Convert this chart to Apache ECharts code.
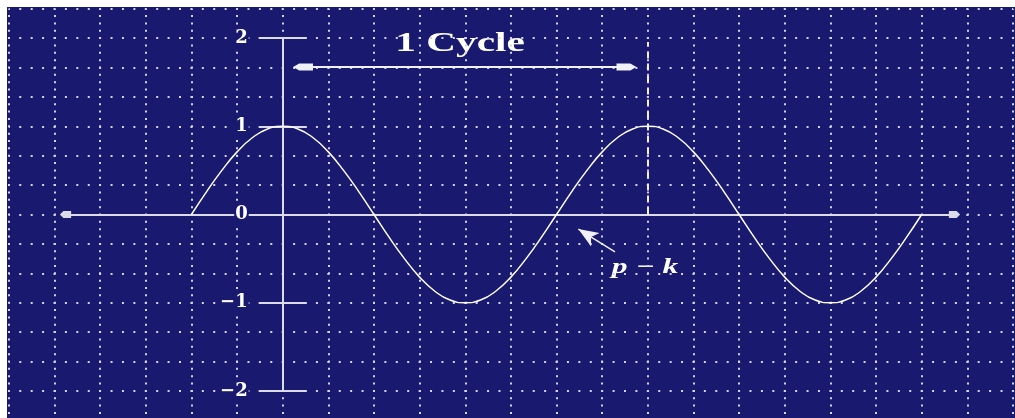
<!DOCTYPE html>
<html>
<head>
<meta charset="utf-8">
<title>1 Cycle</title>
<script src="https://cdn.jsdelivr.net/npm/echarts@6/dist/echarts.min.js"></script>
<style>html, body { margin: 0; padding: 0; background: #fff; }</style>
</head>
<body>
<div id="main" style="width:1015px;height:418px;"></div>
<script>
// phase in degrees, 0 = crest on the vertical axis
var phase = [-90, -75, -60, -45, -30, -15, 0, 15, 30, 45, 60, 75, 90,
    105, 120, 135, 150, 165, 180, 195, 210, 225, 240, 255, 270,
    285, 300, 315, 330, 345, 360, 375, 390, 405, 420, 435, 450,
    465, 480, 495, 510, 525, 540, 555, 570, 585, 600, 615, 630];
var wave = [0, 0.26, 0.5, 0.71, 0.87, 0.97, 1, 0.97, 0.87, 0.71, 0.5, 0.26, 0,
    -0.26, -0.5, -0.71, -0.87, -0.97, -1, -0.97, -0.87, -0.71, -0.5, -0.26, 0,
    0.26, 0.5, 0.71, 0.87, 0.97, 1, 0.97, 0.87, 0.71, 0.5, 0.26, 0,
    -0.26, -0.5, -0.71, -0.87, -0.97, -1, -0.97, -0.87, -0.71, -0.5, -0.26, 0];
var yTickLabels = ['\u22122', '\u22121', '0', '1', '2'];
var cycleText = '1 Cycle';
var noteText = 'p \u2212 k';
// annotation anchors (phase, amplitude)
var cycleArrow = [[20, 1.672], [339, 1.672]];
var cycleMark = [[360, 0], [360, 1.956]];
var noteArrow = [[291.5, -0.165], [327.6, -0.425]];

var navy = '#191970';
var axisColor = '#dcdce8';
var dotColor = '#d4d4e6';

// pixel layout
var x0 = 282.7, y0 = 214.5;
var pxPerDeg = 45.64 / 45;
var pxPerUnit = 88.2;
var axL = 65.5, axR = 954.5;
var arrowPath = 'path://M5,0 L10,5 L10,16 L0,16 L0,5 Z';

var myChart = echarts.init(document.getElementById('main'));

var axisX = {
    type: 'value',
    min: (axL - x0) / pxPerDeg,
    max: (axR - x0) / pxPerDeg,
    axisTick: { show: false },
    axisLabel: { show: false },
    splitLine: { show: false }
};
var axisBox = { top: y0 - 2 * pxPerUnit, height: 4 * pxPerUnit, outerBoundsMode: 'none' };

option = {
    backgroundColor: '#fff',
    animation: false,
    graphic: [
        { type: 'rect', z: -100, silent: true, shape: { x: 7, y: 7, width: 1008, height: 411 }, style: { fill: navy } },
        { type: 'text', x: 460, y: 44, scaleX: 1.53, silent: true,
          style: { text: cycleText, font: 'bold 27px "Liberation Serif"', fill: '#fff', align: 'center', verticalAlign: 'middle' } },
        { type: 'text', x: 645, y: 268, scaleX: 1.5, silent: true,
          style: { text: noteText, font: 'italic bold 21px "Liberation Serif"', fill: '#fff', align: 'center', verticalAlign: 'middle' } }
    ],
    grid: [
        // dotted background
        { left: x0 - 270 * pxPerDeg, width: 990 * pxPerDeg, top: y0 - 7 * pxPerUnit / 3, height: 14 * pxPerUnit / 3, outerBoundsMode: 'none' },
        // axes + curve
        Object.assign({ left: axL, width: axR - axL }, axisBox),
        // right half of the y ticks
        Object.assign({ left: axL, width: axR - axL }, axisBox),
        // y tick labels, left edge on the vertical axis
        Object.assign({ left: x0, width: 10 }, axisBox)
    ],
    xAxis: [
        {
            gridIndex: 0, type: 'value', min: -270, max: 720, interval: 45,
            axisLine: { show: false }, axisTick: { show: false }, axisLabel: { show: false },
            splitLine: { show: true, lineStyle: { color: dotColor, width: 2, type: [2, pxPerUnit / 12 - 2], dashOffset: 1 } }
        },
        Object.assign({}, axisX, {
            gridIndex: 1,
            axisLine: { onZero: true, symbol: [arrowPath, arrowPath], symbolSize: [7, 16], lineStyle: { color: axisColor, width: 2 } }
        }),
        Object.assign({}, axisX, { gridIndex: 2, show: false }),
        { gridIndex: 3, type: 'value', min: 0, max: 1, show: false }
    ],
    yAxis: [
        {
            gridIndex: 0, type: 'value', min: -7, max: 7, interval: 1, // thirds of a unit
            axisLine: { show: false }, axisTick: { show: false }, axisLabel: { show: false },
            splitLine: { show: true, lineStyle: { color: dotColor, width: 2, type: [2, 45.64 / 4 - 2], dashOffset: 1 } }
        },
        {
            gridIndex: 1, type: 'value', min: -2, max: 2, interval: 1,
            axisLine: { onZero: true, lineStyle: { color: axisColor, width: 2 } },
            axisTick: { show: true, inside: false, length: 24, lineStyle: { color: axisColor, width: 2 } },
            axisLabel: { show: false },
            splitLine: { show: false }
        },
        {
            gridIndex: 2, type: 'value', min: -2, max: 2, interval: 1,
            axisLine: { onZero: true, lineStyle: { color: axisColor, width: 2 } },
            axisTick: { show: true, inside: true, length: 24, lineStyle: { color: axisColor, width: 2 } },
            axisLabel: { show: false },
            splitLine: { show: false }
        },
        {
            gridIndex: 3, type: 'value', min: -2, max: 2, interval: 1,
            axisLine: { show: false, onZero: false }, axisTick: { show: false },
            axisLabel: {
                margin: 34, color: '#fff', fontFamily: 'DejaVu Serif', fontWeight: 'bold', fontSize: 18,
                backgroundColor: navy, padding: [0, 1],
                formatter: function (v) { return yTickLabels[v + 2]; }
            },
            splitLine: { show: false }
        }
    ],
    series: [{
        type: 'line',
        xAxisIndex: 1,
        yAxisIndex: 1,
        data: phase.map(function (p, i) { return [p, wave[i]]; }),
        showSymbol: false,
        smooth: true,
        z: 3,
        lineStyle: { color: '#fff', width: 1.5 },
        markLine: {
            silent: true,
            animation: false,
            label: { show: false },
            lineStyle: { color: '#f0f0f8', width: 2, type: 'solid' },
            data: [
                [{ coord: cycleArrow[0], symbol: arrowPath, symbolSize: [7, 20] },
                 { coord: cycleArrow[1], symbol: arrowPath, symbolSize: [7, 20] }],
                [{ coord: cycleMark[0], symbol: 'none', lineStyle: { type: [7, 5], width: 2 } },
                 { coord: cycleMark[1], symbol: 'none' }],
                [{ coord: noteArrow[0], symbol: 'arrow', symbolSize: [12, 20], lineStyle: { width: 1.5 } },
                 { coord: noteArrow[1], symbol: 'none' }]
            ]
        }
    }]
};

myChart.setOption(option);
</script>
</body>
</html>
